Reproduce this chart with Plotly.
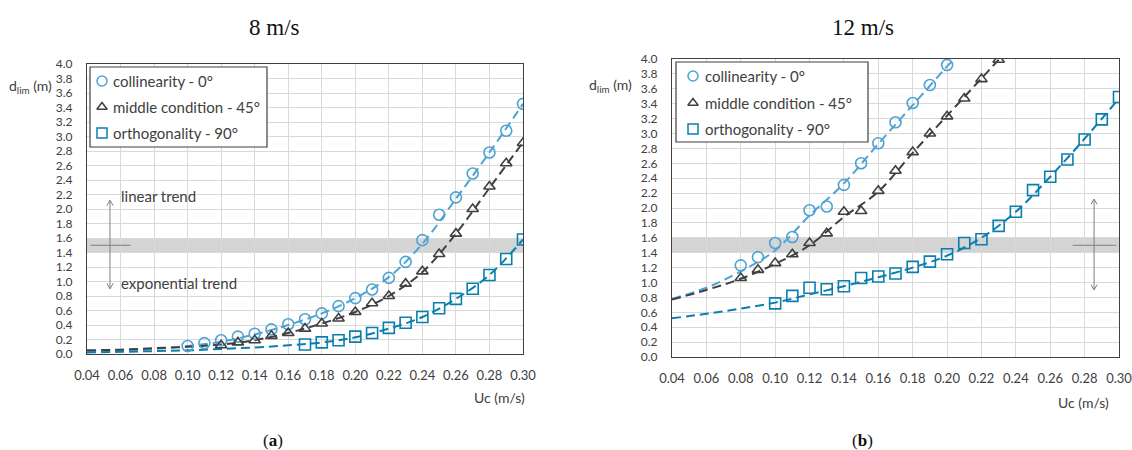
import plotly.graph_objects as go

# ---------------- data: 8 m/s (a) ----------------
a_col_x = [0.10,0.11,0.12,0.13,0.14,0.15,0.16,0.17,0.18,0.19,0.20,0.21,0.22,0.23,0.24,0.25,0.26,0.27,0.28,0.29,0.30]
a_col_y = [0.11,0.15,0.19,0.24,0.28,0.34,0.41,0.48,0.56,0.66,0.77,0.89,1.05,1.27,1.57,1.92,2.16,2.49,2.78,3.08,3.45]
a_mid_x = [0.12,0.13,0.14,0.15,0.16,0.17,0.18,0.19,0.20,0.21,0.22,0.23,0.24,0.25,0.26,0.27,0.28,0.29,0.30]
a_mid_y = [0.12,0.16,0.19,0.25,0.29,0.35,0.42,0.49,0.58,0.70,0.80,0.97,1.14,1.38,1.66,2.00,2.31,2.63,2.91]
a_ort_x = [0.17,0.18,0.19,0.20,0.21,0.22,0.23,0.24,0.25,0.26,0.27,0.28,0.29,0.30]
a_ort_y = [0.13,0.16,0.19,0.24,0.29,0.36,0.43,0.51,0.63,0.76,0.90,1.09,1.31,1.58]

a_tr_x = [0.04,0.06,0.08,0.10,0.12,0.14,0.16,0.18,0.20,0.22,0.24,0.26,0.28,0.30]
a_tr_col = [0.04,0.05,0.07,0.11,0.17,0.27,0.40,0.56,0.77,1.06,1.52,2.14,2.78,3.45]
a_tr_mid = [0.05,0.06,0.08,0.10,0.13,0.19,0.29,0.42,0.58,0.80,1.13,1.66,2.29,2.92]
a_tr_ort = [0.02,0.03,0.04,0.05,0.07,0.09,0.12,0.16,0.23,0.35,0.51,0.76,1.09,1.58]

# ---------------- data: 12 m/s (b) ----------------
b_col_x = [0.08,0.09,0.10,0.11,0.12,0.13,0.14,0.15,0.16,0.17,0.18,0.19,0.20]
b_col_y = [1.23,1.34,1.53,1.61,1.97,2.02,2.31,2.60,2.87,3.15,3.41,3.65,3.92]
b_mid_x = [0.08,0.09,0.10,0.11,0.12,0.13,0.14,0.15,0.16,0.17,0.18,0.19,0.20,0.21,0.22,0.23]
b_mid_y = [1.06,1.17,1.26,1.38,1.53,1.66,1.95,1.96,2.23,2.50,2.75,3.00,3.23,3.47,3.73,3.99]
b_ort_x = [0.10,0.11,0.12,0.13,0.14,0.15,0.16,0.17,0.18,0.19,0.20,0.21,0.22,0.23,0.24,0.25,0.26,0.27,0.28,0.29,0.30]
b_ort_y = [0.72,0.82,0.93,0.91,0.95,1.06,1.08,1.12,1.21,1.28,1.38,1.53,1.58,1.76,1.95,2.24,2.42,2.65,2.92,3.19,3.49]

b_tr_col_x = [0.04,0.06,0.08,0.10,0.12,0.14,0.16,0.18,0.20,0.204]
b_tr_col = [0.78,0.93,1.15,1.43,1.90,2.33,2.86,3.38,3.90,4.00]
b_tr_mid_x = [0.04,0.06,0.08,0.10,0.12,0.14,0.16,0.18,0.20,0.22,0.23]
b_tr_mid = [0.77,0.90,1.05,1.25,1.50,1.88,2.22,2.74,3.24,3.74,3.99]
b_tr_ort_x = [0.04,0.06,0.08,0.10,0.12,0.14,0.16,0.18,0.20,0.22,0.24,0.26,0.28,0.30]
b_tr_ort = [0.52,0.58,0.65,0.73,0.84,0.95,1.07,1.20,1.36,1.60,1.95,2.42,2.93,3.47]

names = ["collinearity - 0°", "middle condition - 45°", "orthogonality - 90°"]
titles = ["8 m/s", "12 m/s"]
captions = ["a", "b"]
x_ticks = [0.04,0.06,0.08,0.10,0.12,0.14,0.16,0.18,0.20,0.22,0.24,0.26,0.28,0.30]
y_ticks = [round(0.2*i, 1) for i in range(21)]

C_COL = "#4ea3d3"
C_MID = "#404040"
C_ORT = "#0a7fae"
TXT = "#404040"
DASH = "9px,5px"
COLORS = [C_COL, C_MID, C_ORT]
SYMBOLS = ["circle-open", "triangle-up-open", "square-open"]
SIZES = [11, 10, 11]

W, H = 1132, 450
fig = go.Figure()

def add_panel(ax, tr, pts):
    xa = "x" if ax == 1 else "x2"
    ya = "y" if ax == 1 else "y2"
    for (tx, ty), c in zip(tr, COLORS):
        fig.add_trace(go.Scatter(x=tx, y=ty, mode="lines", xaxis=xa, yaxis=ya,
                                 line=dict(color=c, width=2, dash=DASH, shape="spline"),
                                 showlegend=False, hoverinfo="skip"))
    for (px, py), c, s, sz, n in zip(pts, COLORS, SYMBOLS, SIZES, names):
        fig.add_trace(go.Scatter(x=px, y=py, mode="markers", xaxis=xa, yaxis=ya, name=n,
                                 showlegend=False,
                                 marker=dict(symbol=s, size=sz, color=c, line=dict(width=1.6, color=c))))

add_panel(1, [(a_tr_x, a_tr_col), (a_tr_x, a_tr_mid), (a_tr_x, a_tr_ort)],
          [(a_col_x, a_col_y), (a_mid_x, a_mid_y), (a_ort_x, a_ort_y)])
add_panel(2, [(b_tr_col_x, b_tr_col), (b_tr_mid_x, b_tr_mid), (b_tr_ort_x, b_tr_ort)],
          [(b_col_x, b_col_y), (b_mid_x, b_mid_y), (b_ort_x, b_ort_y)])

# legend boxes drawn on a pixel-coordinate overlay axis (x3/y3)
legend_boxes = [dict(x0=90, x1=267, y0=67, y1=147, sx=102, tx=111, rows=[81, 107, 133]),
                dict(x0=676, x1=868, y0=62, y1=142, sx=693, tx=703, rows=[76, 103, 129])]
for lb in legend_boxes:
    for c, s, sz, n, ry in zip(COLORS, SYMBOLS, SIZES, names, lb["rows"]):
        fig.add_trace(go.Scatter(x=[lb["sx"]], y=[ry], mode="markers", xaxis="x3", yaxis="y3",
                                 name=n, showlegend=False, hoverinfo="skip",
                                 marker=dict(symbol=s, size=sz - 1, color=c, line=dict(width=1.5, color=c))))

axis_common = dict(showgrid=True, gridcolor="#d9d9d9", gridwidth=1, zeroline=False,
                   showline=True, linecolor="#404040", linewidth=1.2, mirror=True,
                   ticks="outside", tickcolor="rgba(0,0,0,0)", automargin=False,
                   ticklabeloverflow="allow")
xcommon = dict(axis_common, range=[0.04, 0.30], tickvals=x_ticks, ticklen=9,
               ticktext=[f"{v:.2f}" for v in x_ticks],
               tickfont=dict(family="Lato", size=13, color=TXT))
ycommon = dict(axis_common, range=[0, 4.0], tickvals=y_ticks, ticklen=11,
               ticktext=[f"{v:.1f}" for v in y_ticks],
               tickfont=dict(family="Lato", size=12, color=TXT))

fig.update_layout(
    width=W, height=H, margin=dict(l=0, r=0, t=0, b=0, pad=0, autoexpand=False),
    paper_bgcolor="white", plot_bgcolor="rgba(0,0,0,0)",
    showlegend=False,
    xaxis=dict(xcommon, domain=[87/W, 523/W], anchor="y"),
    yaxis=dict(ycommon, domain=[1-354/H, 1-64/H], anchor="x"),
    xaxis2=dict(xcommon, domain=[672/W, 1119/W], anchor="y2"),
    yaxis2=dict(ycommon, domain=[1-357/H, 1-59/H], anchor="x2"),
    xaxis3=dict(domain=[0, 1], range=[0, W], visible=False, anchor="y3", fixedrange=True, automargin=False),
    yaxis3=dict(domain=[0, 1], range=[H, 0], visible=False, anchor="x3", fixedrange=True, automargin=False),
)

GRAY = "#7f7f7f"
shapes = []
for xr, yr in (("x", "y"), ("x2", "y2")):
    shapes.append(dict(type="rect", xref=xr, yref=yr, x0=0.04, x1=0.30, y0=1.4, y1=1.6,
                       fillcolor="#d4d4d4", line=dict(width=0), layer="below"))
shapes.append(dict(type="line", xref="x", yref="y", x0=0.042, x1=0.066, y0=1.5, y1=1.5,
                   line=dict(color=GRAY, width=1.2)))
shapes.append(dict(type="line", xref="x2", yref="y2", x0=0.273, x1=0.2985, y0=1.5, y1=1.5,
                   line=dict(color=GRAY, width=1.2)))
# double-headed trend arrows (vertical line with open chevrons)
for xr, yr, xv, dx, dy in (("x", "y", 0.0537, 0.0019, 0.075), ("x2", "y2", 0.2855, 0.0018, 0.072)):
    top, bot = 2.12, 0.9
    shapes.append(dict(type="line", xref=xr, yref=yr, x0=xv, x1=xv, y0=bot, y1=top,
                       line=dict(color=GRAY, width=1)))
    shapes.append(dict(type="path", xref=xr, yref=yr,
                       path=f"M {xv-dx},{top-dy} L {xv},{top} L {xv+dx},{top-dy}",
                       line=dict(color=GRAY, width=1)))
    shapes.append(dict(type="path", xref=xr, yref=yr,
                       path=f"M {xv-dx},{bot+dy} L {xv},{bot} L {xv+dx},{bot+dy}",
                       line=dict(color=GRAY, width=1)))
for lb in legend_boxes:
    shapes.append(dict(type="rect", xref="x3", yref="y3", x0=lb["x0"], x1=lb["x1"],
                       y0=lb["y0"], y1=lb["y1"], fillcolor="white",
                       line=dict(color="#404040", width=1.2), layer="below"))
fig.update_layout(shapes=shapes)

ann = []
ann.append(dict(xref="x", yref="y", x=0.059, y=2.18, text="linear trend", showarrow=False,
                xanchor="left", font=dict(family="Lato", size=15, color=TXT)))
ann.append(dict(xref="x", yref="y", x=0.059, y=0.98, text="exponential trend", showarrow=False,
                xanchor="left", font=dict(family="Lato", size=15, color=TXT)))
# legend texts
for lb in legend_boxes:
    for n, ry in zip(names, lb["rows"]):
        ann.append(dict(xref="x3", yref="y3", x=lb["tx"], y=ry, text=n, showarrow=False,
                        xanchor="left", yanchor="middle",
                        font=dict(family="Lato", size=15, color=TXT)))
# axis labels
for xp, yp in ((54, 86), (634, 85)):
    ann.append(dict(xref="x3", yref="y3", x=xp, y=yp, text="d<sub>lim</sub> (m)",
                    showarrow=False, xanchor="right", yanchor="middle",
                    font=dict(family="Lato", size=14, color=TXT)))
for xp, yp in ((527, 397), (1111, 402)):
    ann.append(dict(xref="x3", yref="y3", x=xp, y=yp, text="Uc (m/s)",
                    showarrow=False, xanchor="right", yanchor="middle",
                    font=dict(family="Lato", size=14, color=TXT)))
# titles and captions
for xp, t in ((274, titles[0]), (863, titles[1])):
    ann.append(dict(xref="x3", yref="y3", x=xp, y=27, text=t, showarrow=False,
                    xanchor="center", yanchor="middle",
                    font=dict(family="Liberation Serif", size=23, color="#111111")))
for xp, c in ((273, captions[0]), (862, captions[1])):
    ann.append(dict(xref="x3", yref="y3", x=xp, y=440, text=f"(<b>{c}</b>)", showarrow=False,
                    xanchor="center", yanchor="middle",
                    font=dict(family="Liberation Serif", size=17, color="#111111")))
fig.update_layout(annotations=ann)

fig.write_html("out.html")
